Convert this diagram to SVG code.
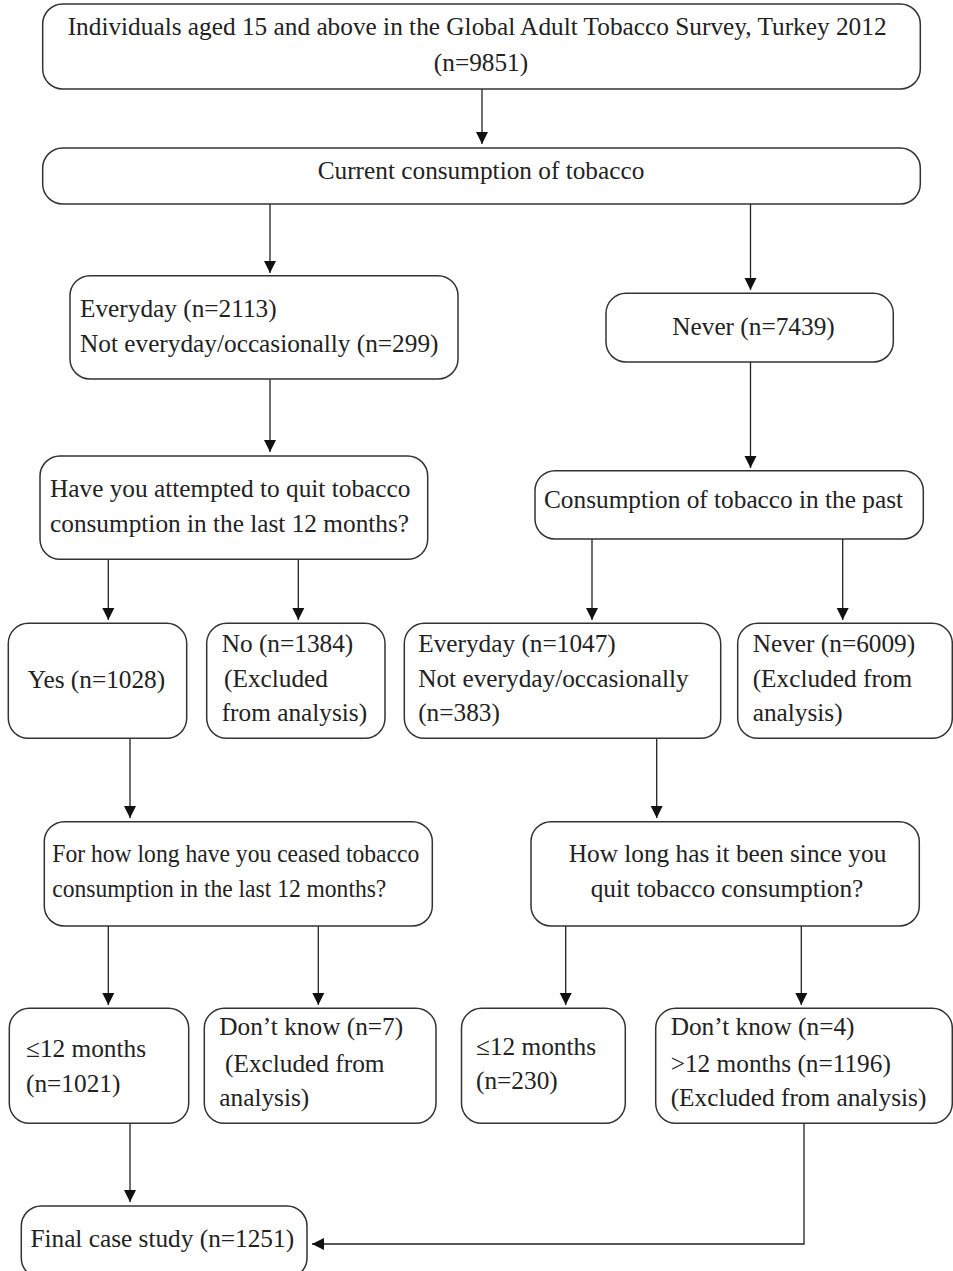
<svg xmlns="http://www.w3.org/2000/svg" width="953" height="1271" viewBox="0 0 953 1271">
<style>
.box{fill:#fff;stroke:#333;stroke-width:1.5}
.t{font-family:"Liberation Serif","Times New Roman",serif;font-size:25.3px;fill:#222}
.c{stroke:#222;stroke-width:1.3;fill:none}
</style>
<defs>
<marker id="ah" viewBox="0 0 12 15" refX="12" refY="7.5" markerWidth="12" markerHeight="15" markerUnits="userSpaceOnUse" orient="auto">
<path d="M0,1.5 L12,7.5 L0,13.5 z" fill="#111"/>
</marker>
</defs>
<rect width="953" height="1271" fill="#fff"/>
<g id="connectors">
<line class="c" x1="482" y1="89" x2="482" y2="144" marker-end="url(#ah)"/>
<line class="c" x1="270" y1="204" x2="270" y2="273" marker-end="url(#ah)"/>
<line class="c" x1="750.5" y1="204" x2="750.5" y2="290" marker-end="url(#ah)"/>
<line class="c" x1="270" y1="379" x2="270" y2="452" marker-end="url(#ah)"/>
<line class="c" x1="750.5" y1="362" x2="750.5" y2="468" marker-end="url(#ah)"/>
<line class="c" x1="108.3" y1="559.3" x2="108.3" y2="620" marker-end="url(#ah)"/>
<line class="c" x1="298.3" y1="559.3" x2="298.3" y2="620" marker-end="url(#ah)"/>
<line class="c" x1="592" y1="539" x2="592" y2="620" marker-end="url(#ah)"/>
<line class="c" x1="842.7" y1="539" x2="842.7" y2="620" marker-end="url(#ah)"/>
<line class="c" x1="130" y1="738.3" x2="130" y2="818" marker-end="url(#ah)"/>
<line class="c" x1="656.7" y1="738.3" x2="656.7" y2="818" marker-end="url(#ah)"/>
<line class="c" x1="108.3" y1="926" x2="108.3" y2="1005" marker-end="url(#ah)"/>
<line class="c" x1="318.3" y1="926" x2="318.3" y2="1005" marker-end="url(#ah)"/>
<line class="c" x1="565.7" y1="926" x2="565.7" y2="1005" marker-end="url(#ah)"/>
<line class="c" x1="801.3" y1="926" x2="801.3" y2="1005" marker-end="url(#ah)"/>
<line class="c" x1="130" y1="1123.3" x2="130" y2="1202" marker-end="url(#ah)"/>
<polyline class="c" points="804,1123.3 804,1244 312,1244" marker-end="url(#ah)"/>
</g>
<g id="n1">
<rect class="box" x="42.7" y="4" width="877.6" height="85" rx="20"/>
<text class="t" x="67.7" y="35">Individuals aged 15 and above in the Global Adult Tobacco Survey, Turkey 2012</text>
<text class="t" x="481" y="71" text-anchor="middle">(n=9851)</text>
</g>
<g id="n2">
<rect class="box" x="42.7" y="148" width="877.6" height="56" rx="20"/>
<text class="t" x="481" y="179" text-anchor="middle">Current consumption of tobacco</text>
</g>
<g id="n3">
<rect class="box" x="70" y="275.7" width="388" height="103.3" rx="20"/>
<text class="t" x="80" y="316.7">Everyday (n=2113)</text>
<text class="t" x="80" y="351.7">Not everyday/occasionally (n=299)</text>
</g>
<g id="n4">
<rect class="box" x="606" y="293.3" width="287.3" height="68.7" rx="20"/>
<text class="t" x="753.5" y="335" text-anchor="middle">Never (n=7439)</text>
</g>
<g id="n5">
<rect class="box" x="40" y="456" width="387.7" height="103.3" rx="20"/>
<text class="t" x="50" y="497.3">Have you attempted to quit tobacco</text>
<text class="t" x="50" y="531.7">consumption in the last 12 months?</text>
</g>
<g id="n6">
<rect class="box" x="535" y="470.7" width="388.3" height="68.3" rx="20"/>
<text class="t" x="544" y="508.3">Consumption of tobacco in the past</text>
</g>
<g id="n7">
<rect class="box" x="8.3" y="623.3" width="178.4" height="115" rx="20"/>
<text class="t" x="27.7" y="687.5">Yes (n=1028)</text>
</g>
<g id="n8">
<rect class="box" x="206.7" y="623.3" width="178.3" height="115" rx="20"/>
<text class="t" x="221.7" y="651.7">No (n=1384)</text>
<text class="t" x="224" y="687.3">(Excluded</text>
<text class="t" x="221.7" y="721">from analysis)</text>
</g>
<g id="n9">
<rect class="box" x="404.3" y="623.3" width="316.4" height="115" rx="20"/>
<text class="t" x="418.2" y="651.7">Everyday (n=1047)</text>
<text class="t" x="418.2" y="687.3">Not everyday/occasionally</text>
<text class="t" x="418.2" y="721">(n=383)</text>
</g>
<g id="n10">
<rect class="box" x="737.7" y="623.3" width="214.6" height="115" rx="20"/>
<text class="t" x="752.7" y="651.7">Never (n=6009)</text>
<text class="t" x="752.7" y="687.3">(Excluded from</text>
<text class="t" x="752.7" y="721">analysis)</text>
</g>
<g id="n11">
<rect class="box" x="44.3" y="821.7" width="388" height="104.3" rx="20"/>
<text class="t" x="52.3" y="861.7" textLength="367" lengthAdjust="spacingAndGlyphs">For how long have you ceased tobacco</text>
<text class="t" x="52.3" y="897.3" textLength="334" lengthAdjust="spacingAndGlyphs">consumption in the last 12 months?</text>
</g>
<g id="n12">
<rect class="box" x="531" y="821.7" width="388.3" height="104.3" rx="20"/>
<text class="t" x="727.5" y="861.7" text-anchor="middle">How long has it been since you</text>
<text class="t" x="727" y="897.3" text-anchor="middle">quit tobacco consumption?</text>
</g>
<g id="n13">
<rect class="box" x="9.3" y="1008.3" width="179.4" height="115" rx="20"/>
<text class="t" x="26" y="1056.5">≤12 months</text>
<text class="t" x="26" y="1091.7">(n=1021)</text>
</g>
<g id="n14">
<rect class="box" x="204.3" y="1008.3" width="231.7" height="115" rx="20"/>
<text class="t" x="219.3" y="1035">Don’t know (n=7)</text>
<text class="t" x="225" y="1071.7">(Excluded from</text>
<text class="t" x="219.3" y="1106">analysis)</text>
</g>
<g id="n15">
<rect class="box" x="461.5" y="1008.3" width="163.8" height="115" rx="20"/>
<text class="t" x="476" y="1055">≤12 months</text>
<text class="t" x="476" y="1089.3">(n=230)</text>
</g>
<g id="n16">
<rect class="box" x="655.7" y="1008.3" width="296.6" height="115" rx="20"/>
<text class="t" x="670.7" y="1035">Don’t know (n=4)</text>
<text class="t" x="670.7" y="1071.7">&gt;12 months (n=1196)</text>
<text class="t" x="670.7" y="1106">(Excluded from analysis)</text>
</g>
<g id="n17">
<rect class="box" x="21.3" y="1206" width="285.7" height="72" rx="20"/>
<text class="t" x="30.4" y="1246.7">Final case study (n=1251)</text>
</g>
</svg>
